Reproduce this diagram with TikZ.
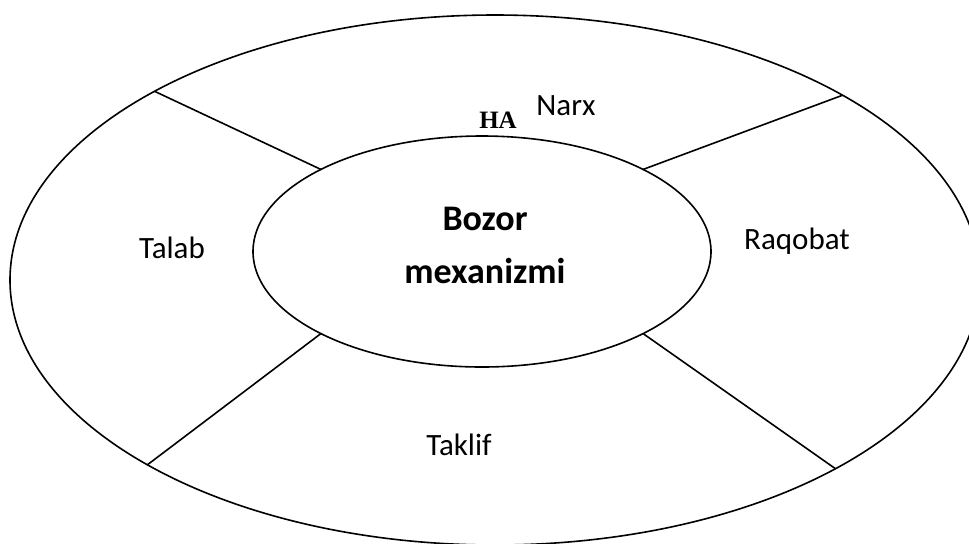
\documentclass[tikz,border=0pt]{standalone}
\usepackage{fontspec}
\setmainfont{Carlito}
\newfontfamily\hafont{Liberation Serif}
\usepackage{tikz}
\usetikzlibrary{shapes.geometric}

\begin{document}
\begin{tikzpicture}[
    x = .5pt,
    y = -.5pt,
    line width = .8pt,
    ringf/.style = {
      ellipse,
      draw=black,
      minimum width=485pt,
      minimum height=265pt,
      inner sep=0pt,
      outer sep=0pt
    },
    coref/.style = {
      ellipse,
      draw=black,
      fill=white,
      minimum width=229pt,
      minimum height=115.5pt,
      inner sep=0pt,
      outer sep=0pt
    },
    labelf/.style = {
      anchor=base,
      inner sep=0pt,
      font=\fontsize{15.5}{18}\selectfont
    },
    titlef/.style = {
      anchor=base,
      inner sep=0pt,
      font=\fontsize{18}{21}\selectfont\bfseries
    }
  ]
    \useasboundingbox (0,0) rectangle (969,543);
    \clip (0,0) rectangle (969,543);

    \node[ringf] (ring) at (495,280) {};
    \node[coref] (core) at (482,251.5) {};

    \draw (core.153.3) -- (ring.151.2);
    \draw (core.27) -- (ring.28.7);
    \draw (core.207) -- (ring.208.7);
    \draw (core.333) -- (ring.331.2);

    \node[titlef] (bozor) at (485,230) {Bozor};
    \node[titlef] (mexanizm) at (485,283) {mexanizmi};

    \node[labelf] (narx) at (566,115) {Narx};
    \node[anchor=base, inner sep=0pt, font=\hafont\fontsize{12.5}{14}\selectfont\bfseries] (ha) at (498,128) {HA};
    \node[labelf] (talab) at (172,258) {Talab};
    \node[labelf] (raqobat) at (797,249) {Raqobat};
    \node[labelf] (taklif) at (459,455) {Taklif};

  \end{tikzpicture}
\end{document}
